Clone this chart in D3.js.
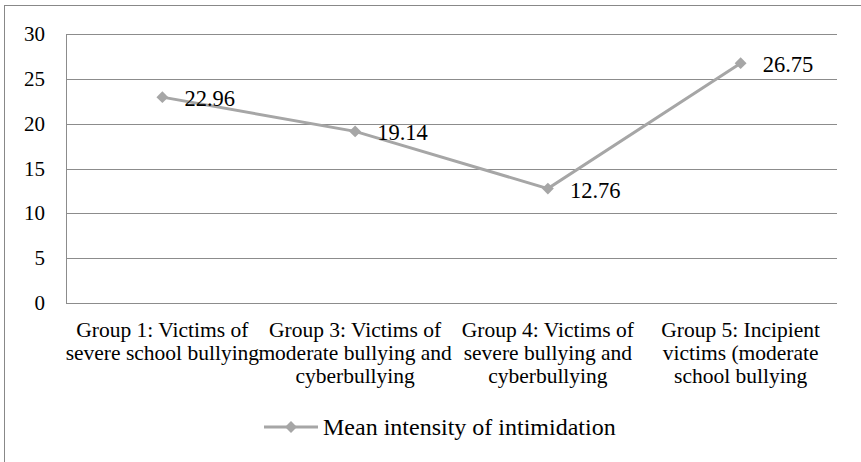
<!DOCTYPE html>
<html>
<head>
<meta charset="utf-8">
<script src="https://cdn.jsdelivr.net/npm/d3@7"></script>
<style>
  body { margin: 0; background: #fff; }
  svg { display: block; font-family: "Liberation Serif", "Times New Roman", serif; }
</style>
</head>
<body>
<svg id="chart" width="861" height="462"></svg>
<script>
(function () {
  // chart data
  var categories = [
    ["Group 1: Victims of", "severe school bullying"],
    ["Group 3: Victims of", "moderate bullying and", "cyberbullying"],
    ["Group 4: Victims of", "severe bullying and", "cyberbullying"],
    ["Group 5: Incipient", "victims (moderate", "school bullying"]
  ];
  var values = [22.96, 19.14, 12.76, 26.75];
  var yTicks = [0, 5, 10, 15, 20, 25, 30];
  var seriesName = "Mean intensity of intimidation";

  var svg = d3.select("#chart");
  var lineColor = "#a6a6a6";
  var fontSize = 21.5;

  // outer frame
  svg.append("rect")
    .attr("x", 4.5).attr("y", 5.5)
    .attr("width", 858).attr("height", 460)
    .attr("fill", "none").attr("stroke", "#888");

  var plotLeft = 66, plotRight = 837, plotTop = 34, plotBottom = 303;

  var x = d3.scaleBand()
    .domain(d3.range(categories.length))
    .range([plotLeft, plotRight]);

  var y = d3.scaleLinear()
    .domain([0, 30])
    .range([plotBottom, plotTop]);

  // gridlines
  svg.append("g")
    .selectAll("line")
    .data(yTicks)
    .enter()
    .append("line")
    .attr("x1", plotLeft).attr("x2", plotRight)
    .attr("y1", d => Math.round(y(d)) + 0.5)
    .attr("y2", d => Math.round(y(d)) + 0.5)
    .attr("stroke", "#8c8c8c").attr("stroke-width", 1);

  // y axis line
  svg.append("line")
    .attr("x1", plotLeft + 0.5).attr("x2", plotLeft + 0.5)
    .attr("y1", plotTop).attr("y2", plotBottom + 0.5)
    .attr("stroke", "#8c8c8c");

  // y tick labels
  svg.append("g")
    .selectAll("text")
    .data(yTicks)
    .enter()
    .append("text")
    .attr("x", 45)
    .attr("y", d => y(d) + 7)
    .attr("text-anchor", "end")
    .attr("font-size", 21)
    .text(d => d);

  // category labels
  var cat = svg.append("g")
    .selectAll("text")
    .data(categories)
    .enter()
    .append("text")
    .attr("text-anchor", "middle")
    .attr("font-size", fontSize)
    .attr("x", (d, i) => x(i) + x.bandwidth() / 2)
    .attr("y", 337);
  cat.selectAll("tspan")
    .data(d => d)
    .enter()
    .append("tspan")
    .attr("x", function () { return d3.select(this.parentNode).attr("x"); })
    .attr("dy", (d, i) => i === 0 ? 0 : 23)
    .text(d => d);

  // series line
  var line = d3.line()
    .x((d, i) => x(i) + x.bandwidth() / 2)
    .y(d => y(d));

  svg.append("path")
    .datum(values)
    .attr("d", line)
    .attr("fill", "none")
    .attr("stroke", lineColor)
    .attr("stroke-width", 3);

  var diamond = d3.symbol().type(d3.symbolDiamond2).size(90);

  svg.append("g")
    .selectAll("path")
    .data(values)
    .enter()
    .append("path")
    .attr("d", diamond)
    .attr("fill", lineColor)
    .attr("transform", (d, i) => "translate(" + (x(i) + x.bandwidth() / 2) + "," + y(d) + ")");

  // data labels
  svg.append("g")
    .selectAll("text")
    .data(values)
    .enter()
    .append("text")
    .attr("x", (d, i) => x(i) + x.bandwidth() / 2 + 22)
    .attr("y", d => y(d) + 9)
    .attr("font-size", 22.5)
    .text(d => d.toFixed(2));

  // legend
  var lg = svg.append("g").attr("transform", "translate(264,427)");
  lg.append("line")
    .attr("x1", 0).attr("x2", 54)
    .attr("y1", 0).attr("y2", 0)
    .attr("stroke", lineColor).attr("stroke-width", 3);
  lg.append("path")
    .attr("d", diamond)
    .attr("fill", lineColor)
    .attr("transform", "translate(27,0)");
  lg.append("text")
    .attr("x", 59).attr("y", 8)
    .attr("font-size", 24)
    .text(seriesName);
})();
</script>
</body>
</html>
